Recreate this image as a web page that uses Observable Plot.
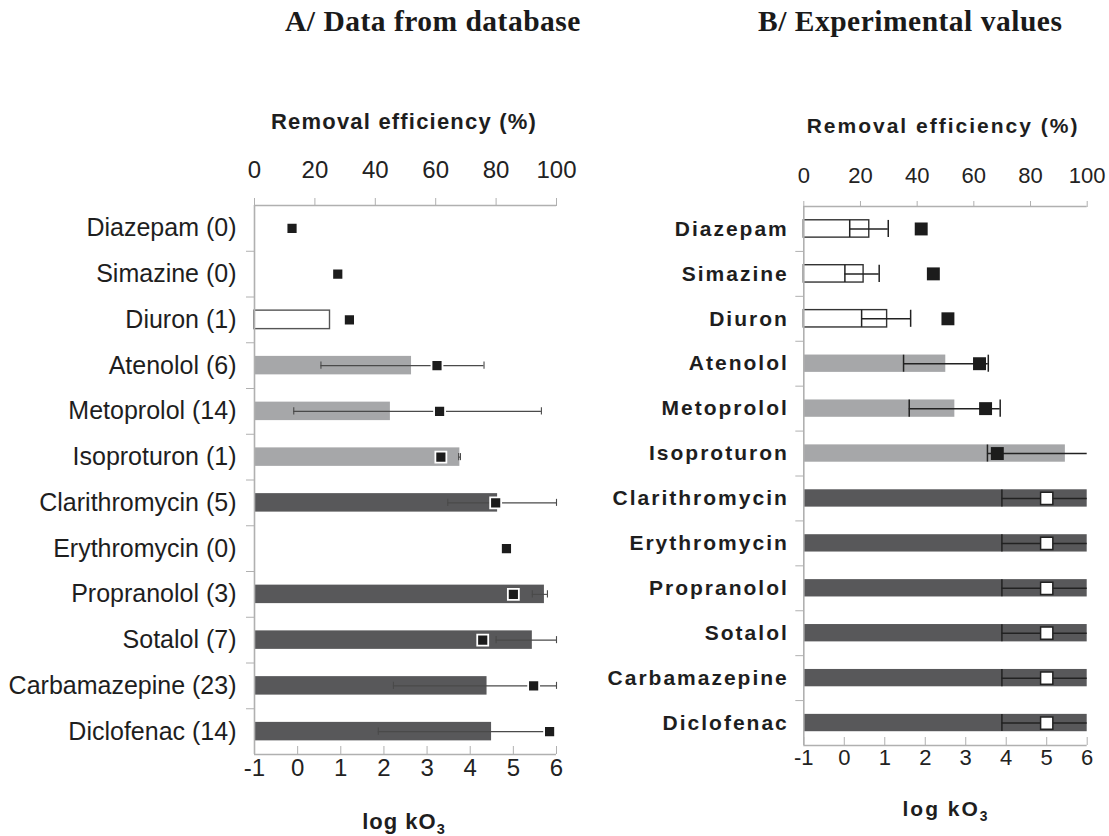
<!DOCTYPE html>
<html>
<head>
<meta charset="utf-8">
<script src="https://cdn.jsdelivr.net/npm/d3@7"></script>
<script src="https://cdn.jsdelivr.net/npm/@observablehq/plot@0.6"></script>
<style>
  body { margin: 0; background: #fff; }
  #wrap { position: relative; width: 1109px; height: 836px; overflow: hidden; font-family: "Liberation Sans", Arial, sans-serif; color: #222; }
  .abs { position: absolute; white-space: nowrap; }
  .title { font-family: "Liberation Serif", "Times New Roman", serif; font-weight: bold; font-size: 29.5px; line-height: 29.5px; letter-spacing: 0.5px; color: #1a1a1a; }
  .axt { font-weight: bold; text-align: center; width: 400px; color: #1e1e1e; }
  .axt sub { font-size: 0.66em; vertical-align: -0.35em; line-height: 0; }
  #panelA, #panelB { position: absolute; top: 0; }
  #panelA { left: 0; }
  #panelB { left: 600px; }
  #panelB g[aria-label="y-axis tick label"] text { letter-spacing: 2px; font-weight: bold; }
</style>
</head>
<body>
<div id="wrap">
  <div id="panelA"></div>
  <div id="panelB"></div>
  <div class="abs title" style="left:285px; top:7px;">A/ Data from database</div>
  <div class="abs title" style="left:758px; top:7px;">B/ Experimental values</div>
  <div class="abs axt" style="left:204px; top:111px; font-size:22px; line-height:22px; letter-spacing:1.2px;">Removal efficiency (%)</div>
  <div class="abs axt" style="left:743px; top:115px; font-size:21px; line-height:21px; letter-spacing:2px;">Removal efficiency (%)</div>
  <div class="abs axt" style="left:204px; top:811px; font-size:22px; line-height:22px; letter-spacing:1px;">log kO<sub>3</sub></div>
  <div class="abs axt" style="left:746px; top:798px; font-size:21px; line-height:21px; letter-spacing:2px;">log kO<sub>3</sub></div>
</div>
<script>
// ---------- data ----------
const compounds = ["Diazepam", "Simazine", "Diuron", "Atenolol", "Metoprolol", "Isoproturon",
  "Clarithromycin", "Erythromycin", "Propranolol", "Sotalol", "Carbamazepine", "Diclofenac"];
const countsA = [0, 0, 1, 6, 14, 1, 5, 0, 3, 7, 23, 14];
const reactivity = ["low", "low", "low", "mid", "mid", "mid", "high", "high", "high", "high", "high", "high"];

// A / database: removal efficiency (%) mean, min, max and log kO3
const removalA = [null, null, 25, 52, 45, 68, 80.5, null, 96, 92, 77, 78.5];
const removalLowA = [null, null, null, 22, 13, 67.6, 64, null, 92, 80, 46, 41];
const removalHighA = [null, null, null, 76, 95, 68.2, 100, null, 97, 100, 100, 96.5];
const logkA = [-0.13, 0.93, 1.20, 3.23, 3.29, 3.32, 4.59, 4.84, 5.00, 4.29, 5.47, 5.84];

// B / experimental values
const removalB = [23.1, 21.1, 29.4, 50.1, 53.3, 92.3, 100, 100, 100, 100, 100, 100];
const removalLowB = [16.2, 14.5, 20.4, 35.2, 37.2, 64.8, 69.9, 69.9, 69.9, 69.9, 69.9, 69.9];
const removalHighB = [29.8, 26.6, 37.7, 65.1, 69.3, 100, 100, 100, 100, 100, 100, 100];
const logkB = [1.90, 2.20, 2.56, 3.34, 3.49, 3.78, 5, 5, 5, 5, 5, 5];

const pctTicks = [0, 20, 40, 60, 80, 100];
const logTicks = [-1, 0, 1, 2, 3, 4, 5, 6];

// ---------- drawing ----------
const axisGray = "#b0b0b0";
const toLog = v => -1 + v * 7 / 100;
const toPct = v => Math.round((v + 1) / 7 * 100);
const mid = i => i + 0.5;

function buildPanel(p) {
  const rows = p.names.map((name, i) => ({
    i, name, cls: reactivity[i], mean: p.mean[i], lo: p.lo[i], hi: p.hi[i], k: p.logk[i]
  }));
  const bars = rows.filter(d => d.mean != null);
  const lowBars = bars.filter(d => d.cls === "low");
  const errs = rows.filter(d => d.lo != null);
  const capsHi = errs.filter(d => p.capAtMax || d.hi < 100);
  const openMarks = rows.filter(d => p.openHigh && d.cls === "high");
  const solidMarks = rows.filter(d => !(p.openHigh && d.cls === "high"));
  return Plot.plot({
    width: p.width, height: 836,
    marginLeft: p.ml, marginRight: p.mr, marginTop: p.mt, marginBottom: p.mb,
    x: {domain: [-1, 6]},
    y: {domain: [0, 12], reverse: true},
    color: {domain: ["low", "mid", "high"], range: ["#ffffff", "#a6a7a9", "#58585a"]},
    style: {fontFamily: '"Liberation Sans", Arial, sans-serif', background: "transparent", overflow: "visible", color: "#222"},
    marks: [
      Plot.rect(bars, {x1: () => -1, x2: d => toLog(d.mean), y1: d => mid(d.i) - p.barHalf, y2: d => mid(d.i) + p.barHalf, fill: "cls"}),
      Plot.rect(lowBars, {x1: () => -1, x2: d => toLog(d.mean), y1: d => mid(d.i) - p.barHalf, y2: d => mid(d.i) + p.barHalf, fill: "none", stroke: p.outline, strokeWidth: 1.4}),
      Plot.ruleX([-1], {stroke: axisGray, strokeWidth: 1.6}),
      Plot.ruleY([0, 12], {stroke: axisGray, strokeWidth: 1.6}),
      Plot.ruleY(errs, {y: d => mid(d.i), x1: d => toLog(d.lo), x2: d => toLog(d.hi), stroke: p.errColor, strokeWidth: p.errWidth}),
      Plot.ruleX(errs, {x: d => toLog(d.lo), y1: d => mid(d.i) - p.cap, y2: d => mid(d.i) + p.cap, stroke: p.errColor, strokeWidth: p.errWidth}),
      Plot.ruleX(capsHi, {x: d => toLog(d.hi), y1: d => mid(d.i) - p.cap, y2: d => mid(d.i) + p.cap, stroke: p.errColor, strokeWidth: p.errWidth}),
      Plot.dot(solidMarks, {x: "k", y: d => mid(d.i), symbol: "square", r: p.r, fill: "#1c1c1c", stroke: p.solidStroke, strokeWidth: 1.8}),
      Plot.dot(openMarks, {x: "k", y: d => mid(d.i), symbol: "square", r: p.r - 0.4, fill: "#ffffff", stroke: "#222", strokeWidth: 1.5}),
      Plot.axisX({anchor: "top", ticks: pctTicks.map(toLog), tickFormat: toPct, tickSize: p.topTick, tickPadding: p.topPad,
        fontSize: p.tickFont, stroke: axisGray, fill: "#222", label: null}),
      Plot.axisX({anchor: "bottom", ticks: logTicks, tickFormat: d => d, tickSize: -8, tickPadding: p.botPad,
        fontSize: p.tickFont, stroke: axisGray, fill: "#222", label: null}),
      Plot.axisY({ticks: d3.range(1, 12), tickSize: 8, tickFormat: () => "", stroke: axisGray, label: null}),
      Plot.axisY({ticks: d3.range(12).map(mid), tickSize: 0, tickPadding: p.labelPad, tickFormat: v => p.names[Math.floor(v)],
        fontSize: p.labelFont, fontWeight: p.labelWeight, fill: "#1e1e1e", label: null})
    ]
  });
}

const namesA = compounds.map((c, i) => `${c} (${countsA[i]})`);

document.getElementById("panelA").append(buildPanel({
  names: namesA, mean: removalA, lo: removalLowA, hi: removalHighA, logk: logkA,
  width: 600, ml: 254, mr: 44, mt: 205, mb: 82,
  barHalf: 0.202, cap: 0.077, r: 6.2, errColor: "#4a4a4a", errWidth: 1.1,
  outline: "#555", solidStroke: "#ffffff", openHigh: false, capAtMax: true,
  topTick: 8, topPad: 20, botPad: 12, tickFont: 24, labelFont: 25, labelPad: 18, labelWeight: "normal"
}));

document.getElementById("panelB").append(buildPanel({
  names: compounds, mean: removalB, lo: removalLowB, hi: removalHighB, logk: logkB,
  width: 509, ml: 203.3, mr: 22.3, mt: 206, mb: 91,
  barHalf: 0.193, cap: 0.19, r: 7.3, errColor: "#222", errWidth: 1.5,
  outline: "#333", solidStroke: "none", openHigh: true, capAtMax: false,
  topTick: 6, topPad: 18, botPad: 12, tickFont: 22, labelFont: 21, labelPad: 15, labelWeight: "bold"
}));
</script>
</body>
</html>
